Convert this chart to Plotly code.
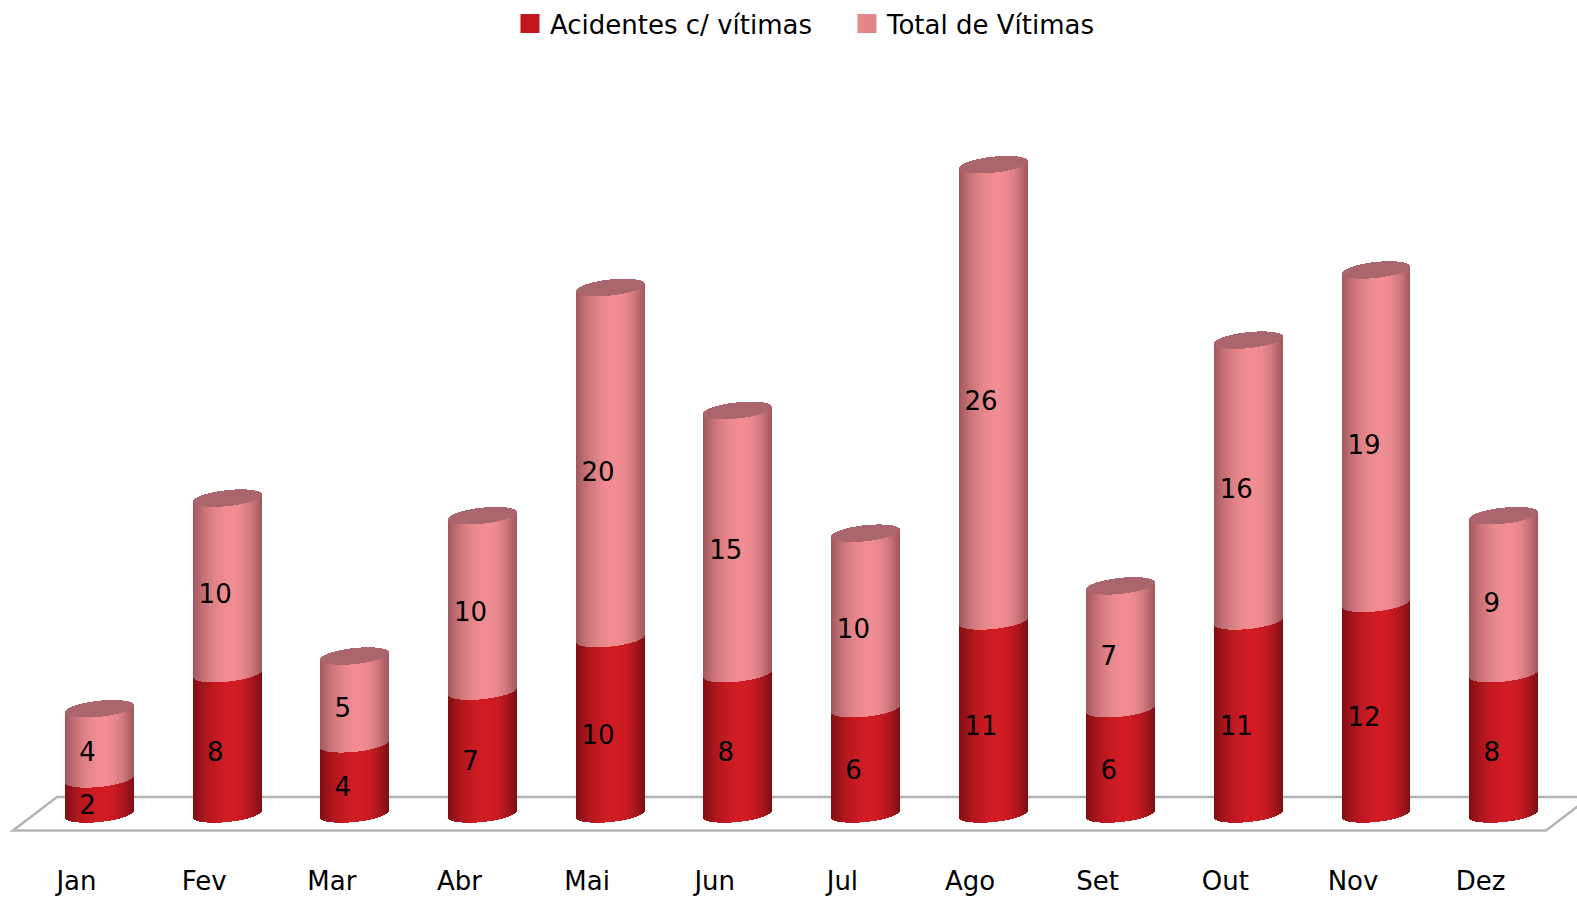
import plotly.graph_objects as go

months = ["Jan", "Fev", "Mar", "Abr", "Mai", "Jun", "Jul", "Ago", "Set", "Out", "Nov", "Dez"]
acidentes = [2, 8, 4, 7, 10, 8, 6, 11, 6, 11, 12, 8]
vitimas = [4, 10, 5, 10, 20, 15, 10, 26, 7, 16, 19, 9]
legend_names = ["Acidentes c/ vítimas", "Total de Vítimas"]

W, H = 1577, 897
BOTTOM_MARGIN = 34
PX_PER_UNIT = 17.55
PX_PER_CAT = 127.65
FIRST_CENTER = 99.5
ZERO_Y = 814.0
HALF_W = 34
TILT = 3.5
ELL_B = 8.0
FONT = "DejaVu Sans"
FS = 26


def shade(bright, edge, t):
    # cylinder light: brightest just right of the centre, darker at both edges
    peak = 0.15
    d = (t - peak) / (1 + peak) if t < peak else (t - peak) / (1 - peak)
    f = min(1.0, abs(d)) ** 2.0
    return "rgb(%d,%d,%d)" % tuple(round(b + (e - b) * f) for b, e in zip(bright, edge))


RED_B, RED_E = (210, 28, 36), (128, 14, 20)
PINK_B, PINK_E = (241, 141, 146), (160, 88, 94)
CAP = "rgb(170,102,108)"

px_x = 1 / PX_PER_CAT
px_y = 1 / PX_PER_UNIT

red = dict(x=[], base=[], y=[], c=[])
pink = dict(x=[], base=[], y=[], c=[])
cap = dict(x=[], base=[], y=[], c=[])

for i, (a, v) in enumerate(zip(acidentes, vitimas)):
    for k in range(2 * HALF_W):
        t = (k + 0.5 - HALF_W) / HALF_W
        xpos = i + t * HALF_W * px_x
        arc = ELL_B * (1 - t * t) ** 0.5
        front = (TILT * t - arc) * px_y   # front edge of a level, relative to it
        red["x"].append(xpos)
        red["base"].append(front)
        red["y"].append(a)
        red["c"].append(shade(RED_B, RED_E, t))
        pink["x"].append(xpos)
        pink["base"].append(a + front)
        pink["y"].append(v)
        pink["c"].append(shade(PINK_B, PINK_E, t))
        cap["x"].append(xpos)
        cap["base"].append(a + v + front)
        cap["y"].append(2 * arc * px_y)
        cap["c"].append(CAP)

fig = go.Figure()
for d in (red, pink, cap):
    fig.add_trace(go.Bar(
        x=d["x"], y=d["y"], base=d["base"], width=px_x * 1.0,
        marker=dict(color=d["c"], line=dict(width=0)),
        showlegend=False, hoverinfo="skip",
    ))

# value labels, sit left of each bar centre as in the 3D projection
label_dx = -12.0 * px_x
label_dy = -11.0 * px_y
fig.add_trace(go.Scatter(
    x=[i + label_dx for i in range(12)] * 2,
    y=[a / 2 + label_dy for a in acidentes] + [a + v / 2 + label_dy for a, v in zip(acidentes, vitimas)],
    text=[str(a) for a in acidentes] + [str(v) for v in vitimas],
    mode="text", textposition="middle center",
    textfont=dict(family=FONT, size=FS, color="#000000"),
    showlegend=False, hoverinfo="skip",
))

# legend entries
for name, col in zip(legend_names, ("#C4161E", "#E4878B")):
    fig.add_trace(go.Scatter(
        x=[None], y=[None], name=name, mode="markers",
        marker=dict(symbol="square", size=16, color=col, line=dict(color=col, width=3)),
    ))

# floor parallelogram (drawn behind the bars)
plot_h = H - BOTTOM_MARGIN
y_top = ZERO_Y / PX_PER_UNIT
y_bot = -(plot_h - ZERO_Y) / PX_PER_UNIT
def fx(p):
    return (p - FIRST_CENTER) / PX_PER_CAT
def fy(p):
    return (ZERO_Y - p) / PX_PER_UNIT
floor_path = "M %f %f L %f %f L %f %f L %f %f Z" % (
    fx(13), fy(830.5), fx(57), fy(797), fx(1590), fy(797), fx(1546), fy(830.5))
fig.add_shape(type="path", path=floor_path, layer="below",
              line=dict(color="#B4B4B4", width=2.5), fillcolor="rgba(255,255,255,0)")

fig.update_layout(
    width=W, height=H,
    margin=dict(l=0, r=0, t=0, b=BOTTOM_MARGIN),
    paper_bgcolor="#FFFFFF", plot_bgcolor="#FFFFFF",
    barmode="overlay", bargap=0,
    font=dict(family=FONT, size=FS, color="#000000"),
    hovermode=False,
    legend=dict(
        orientation="h", x=510 / W, y=1.0, xanchor="left", yanchor="top",
        font=dict(family=FONT, size=FS, color="#000000"),
        bgcolor="rgba(0,0,0,0)", itemclick=False, itemdoubleclick=False,
        traceorder="normal", entrywidth=292, entrywidthmode="pixels",
    ),
    xaxis=dict(
        range=[fx(0), fx(W)], showgrid=False, zeroline=False, showline=False,
        tickmode="array",
        tickvals=[i - 23.0 * px_x for i in range(12)], ticktext=months,
        ticks="", tickfont=dict(family=FONT, size=FS, color="#000000"),
        fixedrange=True,
    ),
    yaxis=dict(range=[y_bot, y_top], visible=False, fixedrange=True),
)

fig.write_html(
    "out.html",
    config={"displayModeBar": False},
    post_script="document.body.style.margin='0';document.body.style.overflow='hidden';",
)
